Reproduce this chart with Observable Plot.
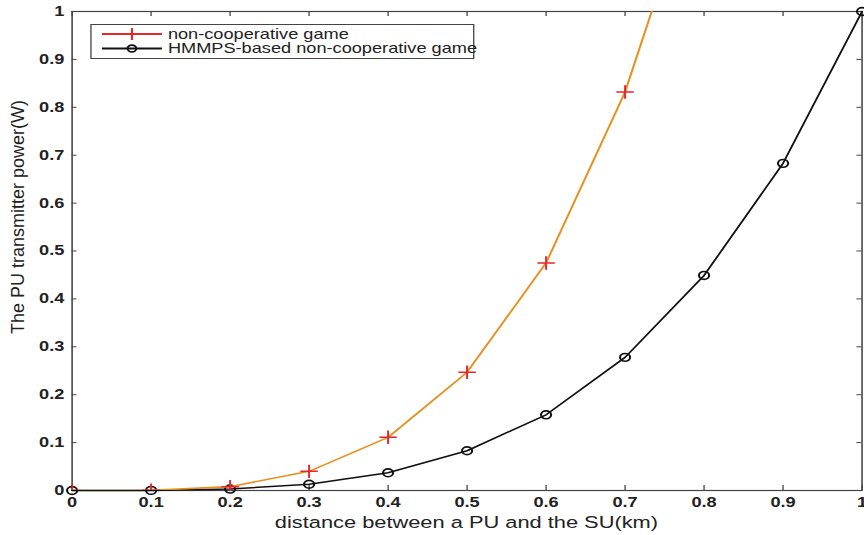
<!DOCTYPE html>
<html>
<head>
<meta charset="utf-8">
<script src="https://cdn.jsdelivr.net/npm/d3@7"></script>
<script src="https://cdn.jsdelivr.net/npm/@observablehq/plot@0.6"></script>
<style>
  html, body { margin: 0; padding: 0; background: #fff; }
  #chart { width: 864px; height: 535px; overflow: hidden; }
</style>
</head>
<body>
<div id="chart"></div>
<script>
// ---- data ----
const distance = [0, 0.1, 0.2, 0.3, 0.4, 0.5, 0.6, 0.7, 0.8, 0.9, 1.0];
const nonCooperative = [0, 0.0005, 0.008, 0.040, 0.111, 0.247, 0.475, 0.832, 1.33];
const hmmpsBased = [0, 0.0002, 0.003, 0.013, 0.037, 0.083, 0.158, 0.278, 0.449, 0.683, 1.0];
const xTicks = [0, 0.1, 0.2, 0.3, 0.4, 0.5, 0.6, 0.7, 0.8, 0.9, 1];
const yTicks = [0, 0.1, 0.2, 0.3, 0.4, 0.5, 0.6, 0.7, 0.8, 0.9, 1];
const seriesNames = ["non-cooperative game", "HMMPS-based non-cooperative game"];
const xLabel = "distance between a PU and the SU(km)";
const yLabel = "The PU transmitter power(W)";

const redData = nonCooperative.map((v, i) => ({x: distance[i], y: v}));
const blackData = hmmpsBased.map((v, i) => ({x: distance[i], y: v}));

const STRETCH = 1.3;           // reference is horizontally stretched
const W = 665, H = 535;
const mL = 55, mR = 2, mT = 11, mB = 45;
const innerW = W - mL - mR, innerH = H - mT - mB;
const tick = 5;
const FONT = "'Liberation Sans', Arial, sans-serif";

const fmt = d => d === 0 ? "0" : d === 1 ? "1" : d.toFixed(1);

const plot = Plot.plot({
  width: W, height: H,
  marginLeft: mL, marginRight: mR, marginTop: mT, marginBottom: mB,
  style: {fontFamily: FONT, fontSize: "14px", color: "#222", background: "#fff"},
  x: {domain: [0, 1]},
  y: {domain: [0, 1]},
  marks: [
    Plot.axisX(xTicks, {tickSize: 0, tickPadding: 7, tickFormat: fmt, label: null, fontSize: 14, fontWeight: "bold"}),
    Plot.axisY(yTicks, {tickSize: 0, tickPadding: 6, tickFormat: fmt, label: null, fontSize: 14, fontWeight: "bold"}),
    // inward ticks on all four sides
    Plot.ruleX(xTicks, {x: d => d, insetTop: innerH - tick, stroke: "#444"}),
    Plot.ruleX(xTicks, {x: d => d, insetBottom: innerH - tick, stroke: "#444"}),
    Plot.ruleY(yTicks, {y: d => d, insetRight: innerW - tick / STRETCH, stroke: "#444"}),
    Plot.ruleY(yTicks, {y: d => d, insetLeft: innerW - tick / STRETCH, stroke: "#444"}),
    Plot.frame({stroke: "#444", strokeWidth: 1.2}),
    Plot.line(blackData, {x: "x", y: "y", stroke: "#111", strokeWidth: 1.5}),
    Plot.dot(blackData, {x: "x", y: "y", symbol: "circle", r: 3.9, stroke: "#111", fill: "none", strokeWidth: 1.6}),
    Plot.line(redData, {x: "x", y: "y", stroke: "#e8901e", strokeWidth: 1.6, clip: true}),
    Plot.dot(redData, {x: "x", y: "y", symbol: "plus", r: 4.4, stroke: "#e8262a", strokeWidth: 1.5, clip: true})
  ]
});

// stretch horizontally to match reference
plot.setAttribute("width", W * STRETCH);
plot.setAttribute("height", H);
plot.setAttribute("viewBox", `0 0 ${W} ${H}`);
plot.setAttribute("preserveAspectRatio", "none");
plot.style.width = (W * STRETCH) + "px";
plot.style.height = H + "px";

const svg = d3.select(plot);

// axis titles
svg.append("text").attr("font-family", FONT).attr("font-size", 16.8).attr("fill", "#222")
  .attr("text-anchor", "middle").attr("x", mL + innerW / 2).attr("y", 522).attr("dy", "0.35em").text(xLabel);
svg.append("text").attr("font-family", FONT).attr("font-size", 18).attr("fill", "#222")
  .attr("text-anchor", "middle")
  .attr("transform", `translate(${18 / STRETCH},217) rotate(-90) scale(1,${1 / STRETCH})`)
  .attr("dy", "0.35em").text(yLabel);

// legend
const lg = svg.append("g").attr("font-family", FONT).attr("font-size", 14).attr("fill", "#222").attr("text-anchor", "start");
const bx0 = 91 / STRETCH, bx1 = 474 / STRETCH, by0 = 24.5, by1 = 58.5;
lg.append("rect").attr("x", bx0).attr("y", by0).attr("width", bx1 - bx0).attr("height", by1 - by0)
  .attr("fill", "#fff").attr("stroke", "#444").attr("stroke-width", 1);
const rows = [
  {name: seriesNames[0], y: 34, stroke: "#e8262a", sym: d3.symbolPlus, size: 50},
  {name: seriesNames[1], y: 48.5, stroke: "#111", sym: d3.symbolCircle, size: 35}
];
rows.forEach(r => {
  lg.append("line").attr("x1", 102 / STRETCH).attr("x2", 162 / STRETCH).attr("y1", r.y).attr("y2", r.y)
    .attr("stroke", r.stroke).attr("stroke-width", 1.8);
  lg.append("path").attr("d", d3.symbol(r.sym, r.size)()).attr("transform", `translate(${132 / STRETCH},${r.y})`)
    .attr("fill", "none").attr("stroke", r.stroke).attr("stroke-width", 1.6);
  lg.append("text").attr("x", 168 / STRETCH).attr("y", r.y).attr("dy", "0.35em").text(r.name);
});

document.getElementById("chart").appendChild(plot);
</script>
</body>
</html>
